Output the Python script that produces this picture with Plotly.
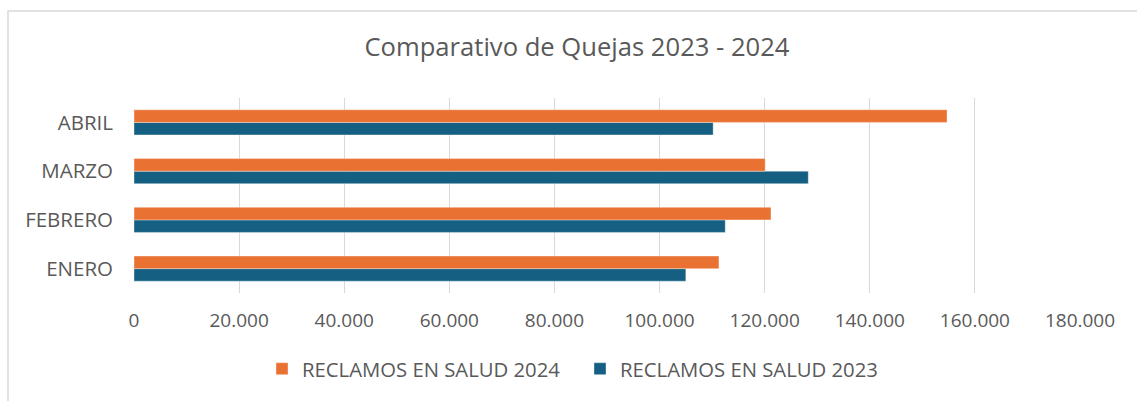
import plotly.graph_objects as go

months = ["ENERO", "FEBRERO", "MARZO", "ABRIL"]
reclamos_2023 = [105000, 112500, 128300, 110200]
reclamos_2024 = [111300, 121200, 120100, 154700]
x_ticks = [0, 20000, 40000, 60000, 80000, 100000, 120000, 140000, 160000, 180000]

W, H = 1137, 401
L, R, T, B = 134, 57, 98, 108
pw = W - L - R
ph = H - T - B

def px_x(p):
    return (p - L) / pw

def px_y(p):
    return (H - B - p) / ph

txt = "#595959"
font_family = "Open Sans"

fig = go.Figure()
fig.add_trace(go.Bar(
    y=months, x=reclamos_2023, orientation="h", name="RECLAMOS EN SALUD 2023",
    marker=dict(color="#156082", line=dict(color="rgba(255,255,255,0.6)", width=0.6)),
))
fig.add_trace(go.Bar(
    y=months, x=reclamos_2024, orientation="h", name="RECLAMOS EN SALUD 2024",
    marker=dict(color="#E97132", line=dict(color="rgba(255,255,255,0.6)", width=0.6)),
))

fig.update_layout(
    width=W, height=H,
    margin=dict(l=L, r=R, t=T, b=B, autoexpand=False),
    paper_bgcolor="white", plot_bgcolor="white",
    separators=",.",
    barmode="group", bargap=0.485, bargroupgap=0,
    font=dict(family=font_family, color=txt, size=19),
    title=dict(text="Comparativo de Quejas 2023 - 2024",
               font=dict(family=font_family, size=25.6, color=txt),
               x=px_x(577), xref="paper", xanchor="center",
               y=1 - 47 / H, yref="container", yanchor="middle"),
    legend=dict(orientation="h", traceorder="reversed",
                x=px_x(580), xanchor="center", y=px_y(369), yanchor="middle",
                font=dict(size=20.3, color=txt), entrywidth=273, entrywidthmode="pixels"),
    showlegend=True,
    shapes=[dict(type="rect", xref="paper", yref="paper",
                 x0=px_x(8), x1=px_x(1150), y0=px_y(410), y1=px_y(11),
                 line=dict(color="#d9d9d9", width=1.5), fillcolor="rgba(0,0,0,0)", layer="below")],
)

fig.update_xaxes(range=[0, 180000], tickvals=x_ticks, tickformat=",",
                 showgrid=True, gridcolor="#d9d9d9", gridwidth=1.4,
                 zeroline=False, showline=False, ticks="", ticklabelstandoff=14,
                 tickfont=dict(size=19, color=txt), fixedrange=True)
fig.update_yaxes(showgrid=False, zeroline=False, showline=False, ticks="",
                 ticklabelstandoff=20, tickfont=dict(size=20.5, color=txt), fixedrange=True)

fig.write_html("out.html", config={"displayModeBar": False},
               post_script="document.body.style.margin='0';document.body.style.overflow='hidden';")
